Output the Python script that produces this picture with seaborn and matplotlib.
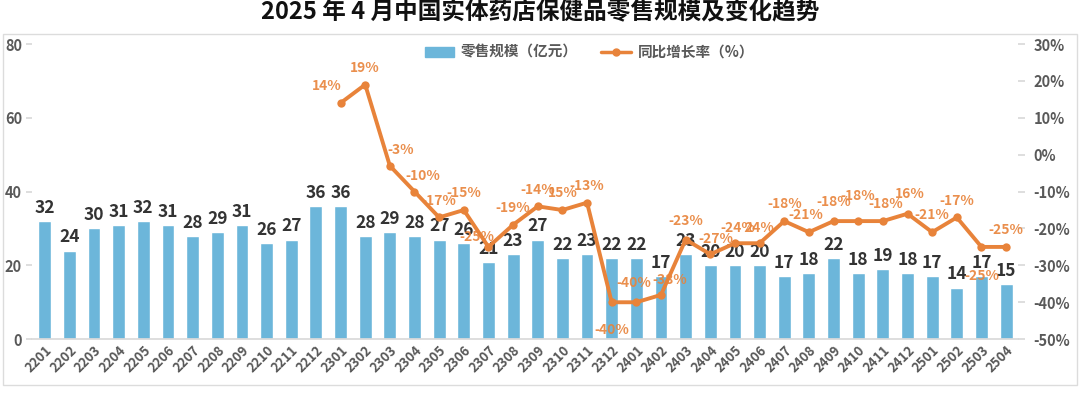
import numpy as np
import pandas as pd
import seaborn as sns
import matplotlib.pyplot as plt
from matplotlib.patches import Rectangle, Patch
from matplotlib.lines import Line2D
from matplotlib.ticker import FuncFormatter

# Data
months = ['2201', '2202', '2203', '2204', '2205', '2206', '2207', '2208', '2209', '2210', '2211', '2212',
          '2301', '2302', '2303', '2304', '2305', '2306', '2307', '2308', '2309', '2310', '2311', '2312',
          '2401', '2402', '2403', '2404', '2405', '2406', '2407', '2408', '2409', '2410', '2411', '2412',
          '2501', '2502', '2503', '2504']
sales = [32, 24, 30, 31, 32, 31, 28, 29, 31, 26, 27, 36,
         36, 28, 29, 28, 27, 26, 21, 23, 27, 22, 23, 22,
         22, 17, 23, 20, 20, 20, 17, 18, 22, 18, 19, 18,
         17, 14, 17, 15]
growth_months = months[12:]
growth = [14, 19, -3, -10, -17, -15, -25, -19, -14, -15, -13, -40,
          -40, -38, -23, -27, -24, -24, -18, -21, -18, -18, -18, -16,
          -21, -17, -25, -25]
growth_text = ['14%', '19%', '-3%', '-10%', '-17%', '-15%', '-25%', '-19%', '-14%', '15%', '-13%', '-40%',
               '-40%', '-38%', '-23%', '-27%', '-24%', '24%', '-18%', '-21%', '-18%', '-18%', '-18%', '16%',
               '-21%', '-17%', '-25%', '-25%']

BLUE = '#6cb6da'
ORANGE = '#e8833a'
GRAY = '#595959'

sns.set_theme(style='white')
plt.rcParams['font.family'] = ['Noto Sans CJK SC', 'DejaVu Sans']

df = pd.DataFrame({'month': months, 'sales': sales})
df_g = pd.DataFrame({'pos': [months.index(m) for m in growth_months], 'growth': growth})

fig, ax = plt.subplots(figsize=(10.8, 3.93), dpi=100)
fig.subplots_adjust(left=0.030, right=0.943, bottom=0.137, top=0.888)

sns.barplot(data=df, x='month', y='sales', color=BLUE, width=0.52, saturation=1, ax=ax)
ax.bar_label(ax.containers[0], labels=[str(v) for v in sales], padding=3,
             fontsize=12.5, fontweight='bold', color='#333333')
ax.set_ylim(0, 80)
ax.set_yticks([0, 20, 40, 60, 80])
ax.set_xlim(-0.5, len(months) - 0.5)
ax.set_xlabel('')
ax.set_ylabel('')
ax.tick_params(axis='x', labelrotation=45, labelsize=9.5, labelcolor=GRAY, length=0, pad=3)
for t in ax.get_xticklabels():
    t.set_ha('right')
    t.set_rotation_mode('anchor')
    t.set_fontweight('bold')
ax.tick_params(axis='y', labelsize=10.5, labelcolor=GRAY, length=4, color='#d9d9d9', left=True)
for t in ax.get_yticklabels():
    t.set_fontweight('bold')

ax2 = ax.twinx()
sns.lineplot(data=df_g, x='pos', y='growth', color=ORANGE, linewidth=2.8, marker='o',
             markersize=6, markeredgewidth=0, ax=ax2)
ax2.set_ylim(-50, 30)
ax2.set_yticks(range(-50, 31, 10))
ax2.yaxis.set_major_formatter(FuncFormatter(lambda v, p: f'{v:.0f}%'))
ax2.set_ylabel('')
ax2.set_xlabel('')
ax2.tick_params(axis='y', labelsize=10.5, labelcolor=GRAY, length=5, color='#d9d9d9', right=True, pad=6)
for t in ax2.get_yticklabels():
    t.set_fontweight('bold')

# label offsets (points) for the growth labels
offsets = {0: (-10, 7), 2: (8, 6), 3: (6, 6), 6: (-8, 2), 7: (0, 7), 11: (0, -15),
           12: (-2, 9), 13: (6, 6), 14: (0, 8), 15: (4, 6), 16: (2, 6), 17: (0, 6),
           19: (-2, 7), 20: (0, 9), 21: (0, 13), 22: (2, 7), 23: (2, 9), 26: (0, -16)}
for i, (p, v) in enumerate(zip(df_g['pos'], growth)):
    dx, dy = offsets.get(i, (0, 7))
    ax2.annotate(growth_text[i], (p, v), xytext=(dx, dy), textcoords='offset points',
                 ha='center', va='bottom' if dy > 0 else 'top', fontsize=10,
                 color=ORANGE, fontweight='bold', alpha=0.9)

for a in (ax, ax2):
    for s in a.spines.values():
        s.set_visible(False)
ax.spines['bottom'].set_visible(True)
ax.spines['bottom'].set_color('#d9d9d9')

# legend
handles = [Patch(color=BLUE), Line2D([], [], color=ORANGE, lw=2.5, marker='o', markersize=5)]
leg = ax.legend(handles, ['零售规模（亿元）', '同比增长率（%）'], loc='upper center',
                bbox_to_anchor=(0.565, 1.03), ncol=2, frameon=False, fontsize=10.5,
                handlelength=2.0, handletextpad=0.5, columnspacing=1.6, borderaxespad=0.2)
for t in leg.get_texts():
    t.set_color(GRAY)
    t.set_fontweight('bold')

fig.suptitle('2025 年 4 月中国实体药店保健品零售规模及变化趋势', y=1.0, fontsize=17,
             fontweight='bold', color='#111111')
fig.patches.append(Rectangle((0.003, 0.02), 0.994, 0.893, transform=fig.transFigure,
                             fill=False, edgecolor='#dcdcdc', linewidth=1))

fig.savefig('out.png', dpi=100)
